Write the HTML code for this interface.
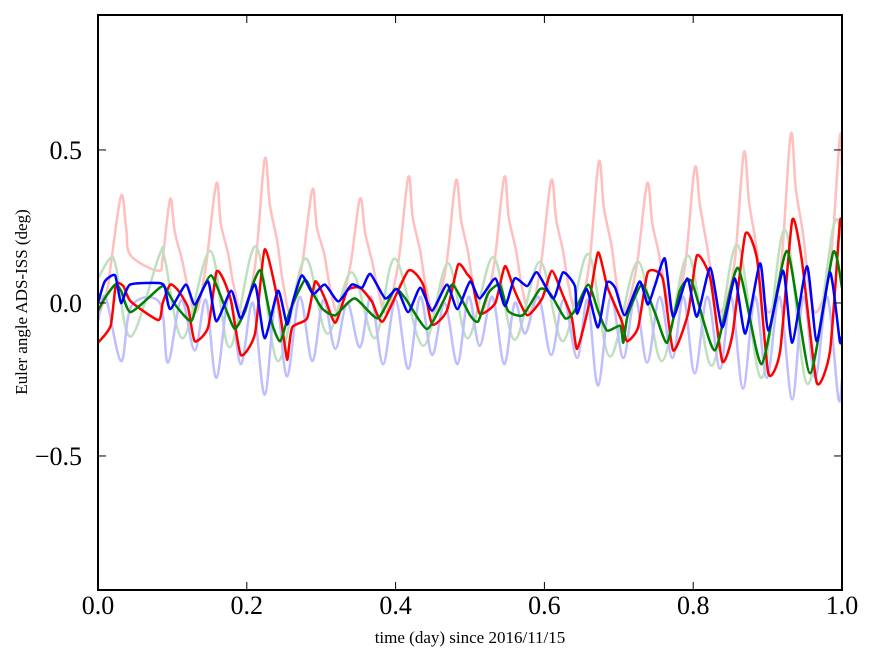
<!DOCTYPE html>
<html><head><meta charset="utf-8"><style>
html,body{margin:0;padding:0;background:#fff;}
svg{display:block;font-family:"Liberation Serif",serif;}
</style></head><body>
<svg id="chart" width="875" height="662" viewBox="0 0 875 662" xmlns="http://www.w3.org/2000/svg">
<rect x="0" y="0" width="875" height="662" fill="#fff"/>
<g id="series"></g>
<g id="axes"></g>
<text x="470" y="643" font-size="17" text-anchor="middle">time (day) since 2016/11/15</text>
<text transform="translate(27,302) rotate(-90)" font-size="17" text-anchor="middle">Euler angle ADS-ISS (deg)</text>
</svg>
<script>
const xTicks=[0,0.2,0.4,0.6,0.8,1.0];
const xTickLabels=["0.0","0.2","0.4","0.6","0.8","1.0"];
const yTicks=[0.5,0,-0.5];
const yTickLabels=["0.5","0.0","\u22120.5"];

const pinkT=[0,.013,.017,.031,.038,.044,.081,.087,.097,.103,.113,.121,.132,.145,.159,.165,.175,.183,.194,.211,.224,.231,.241,.249,.259,.274,.288,.294,.304,.312,.323,.339,.352,.359,.368,.376,.387,.403,.417,.423,.433,.441,.452,.468,.481,.488,.497,.505,.516,.532,.546,.552,.562,.570,.581,.595,.609,.616,.625,.633,.644,.660,.673,.680,.690,.698,.708,.724,.738,.745,.754,.762,.773,.789,.802,.809,.819,.827,.837,.855,.868,.875,.884,.892,.903,.918,.931,.938,.948,.956,.966,.984,.997,1.0];
const pinkV=[-.05,.05,.12,.35,.24,.155,.105,.15,.34,.235,.14,.05,-.03,.12,.39,.26,.16,.05,-.03,.12,.47,.32,.2,.06,-.03,.12,.37,.25,.16,.05,-.03,.12,.34,.23,.14,.05,-.03,.12,.41,.28,.17,.05,-.03,.12,.40,.27,.17,.05,-.03,.12,.41,.28,.17,.05,-.03,.12,.40,.27,.17,.05,-.03,.12,.46,.31,.19,.05,-.03,.12,.39,.26,.16,.05,-.03,.12,.44,.32,.18,.05,-.03,.12,.49,.33,.2,.05,-.03,.12,.55,.37,.22,.05,-.03,.12,.54,.45];

const fgreenT=[0,.016,.024,.044,.083,.09,.114,.151,.177,.212,.242,.278,.308,.341,.372,.399,.437,.470,.497,.531,.560,.594,.625,.659,.688,.726,.758,.793,.825,.859,.892,.923,.954,.988,1.0];
const fgreenV=[.08,.145,.12,-.11,.16,.14,-.115,.17,-.145,.185,-.19,.145,-.1,.10,-.115,.145,-.14,.13,-.115,.15,-.12,.135,-.125,.16,-.175,.135,-.19,.155,-.205,.19,-.245,.24,-.265,.245,.21];

const fblueT=[0,.01,.031,.045,.083,.094,.112,.130,.145,.159,.176,.192,.208,.224,.239,.254,.271,.288,.303,.319,.335,.352,.367,.383,.400,.417,.433,.449,.466,.483,.498,.513,.530,.546,.560,.574,.592,.609,.626,.644,.658,.672,.689,.706,.722,.738,.755,.772,.787,.802,.819,.836,.851,.867,.883,.899,.916,.933,.948,.964,.980,.995,1.0];
const fblueV=[-.06,.02,-.19,-.01,0,-.195,.01,-.155,.01,-.245,.02,-.2,0,-.30,.01,-.24,.02,-.19,.01,-.15,0,-.145,.02,-.2,.01,-.215,.02,-.17,0,-.2,.02,-.14,.02,-.2,0,-.1,.02,-.17,.01,-.18,.01,-.27,.02,-.18,.02,-.195,.02,-.18,.02,-.23,.02,-.215,.02,-.28,.02,-.245,.02,-.315,.02,-.245,.02,-.31,-.25];

const redT=[0,.017,.024,.034,.044,.081,.087,.097,.108,.121,.130,.148,.159,.168,.179,.192,.211,.224,.242,.253,.255,.261,.281,.292,.305,.319,.335,.352,.368,.383,.417,.437,.449,.469,.484,.496,.503,.513,.534,.547,.560,.577,.597,.610,.624,.637,.644,.659,.672,.685,.704,.711,.726,.739,.759,.773,.793,.805,.823,.839,.853,.870,.886,.901,.917,.933,.946,.966,.984,.997,1.0];
const redV=[-.13,-.075,.06,.055,.005,-.056,0,.06,.04,-.015,-.125,-.08,.10,.08,.005,-.17,-.10,.175,.005,-.17,-.18,-.08,-.05,.07,.015,-.065,.04,.05,.005,-.06,.105,.06,-.07,-.025,.125,.095,.07,-.035,0,.12,.04,-.04,.015,.105,.03,-.05,-.15,-.015,.165,.05,-.06,-.125,-.08,.10,.08,-.155,-.035,.155,.08,-.19,-.10,.225,.14,-.23,-.155,.27,.14,-.26,-.155,.26,.25];

const greenT=[0,.009,.023,.031,.044,.083,.090,.105,.125,.134,.152,.171,.184,.198,.208,.219,.233,.245,.258,.278,.289,.302,.319,.345,.376,.399,.413,.442,.464,.477,.5,.511,.524,.540,.551,.571,.594,.608,.628,.641,.659,.672,.684,.702,.706,.712,.731,.749,.765,.782,.798,.829,.860,.892,.926,.957,.988,1.0];
const greenV=[-.025,.015,.06,.04,-.03,.05,.05,-.01,-.06,.005,.09,-.015,-.085,-.025,.06,.105,-.06,-.125,-.025,.075,.03,-.02,-.04,.015,-.05,.045,.015,-.085,.005,.06,-.04,-.06,.03,.06,-.025,-.04,.045,.03,-.05,-.025,.06,-.025,-.09,-.075,-.13,-.04,.06,-.035,-.13,.04,.07,-.155,.115,-.2,.17,-.23,.165,.05];

const blueT=[0,.009,.023,.031,.043,.083,.090,.097,.118,.130,.148,.159,.179,.192,.211,.224,.242,.254,.262,.274,.289,.305,.323,.341,.355,.366,.386,.402,.417,.433,.449,.469,.483,.5,.513,.534,.547,.560,.577,.590,.612,.625,.641,.644,.657,.672,.684,.695,.708,.728,.739,.749,.762,.773,.792,.805,.823,.839,.856,.870,.890,.901,.921,.933,.953,.966,.984,.997,1.0];
const blueV=[0,.07,.09,0,.06,.065,.05,-.02,.06,-.005,.07,-.06,.04,-.05,.06,-.115,.04,-.07,.005,.09,.03,.06,.005,.06,.05,.095,.015,.045,-.03,.05,-.025,.06,-.02,.07,.015,.08,-.01,.08,.055,.1,.015,.1,.055,-.035,.045,-.08,.065,.05,-.04,.07,-.005,.06,.145,-.045,.08,-.045,.115,-.08,.08,-.1,.13,-.09,.105,-.13,.12,-.125,.1,-.125,-.11];

const L=98,R=842,T=15,B=590;
const xMin=0,xMax=1,yMin=-0.938,yMax=0.941;
function xs(v){return L+(v-xMin)/(xMax-xMin)*(R-L);}
function ys(v){return B-(v-yMin)/(yMax-yMin)*(B-T);}
const NS="http://www.w3.org/2000/svg";
const sg=document.getElementById('series');
const ag=document.getElementById('axes');

function smoothPath(t,v,k){const p=t.map((x,i)=>[xs(x),ys(v[i])]);let d='M'+p[0][0].toFixed(1)+','+p[0][1].toFixed(1);
for(let i=0;i<p.length-1;i++){const p0=p[Math.max(0,i-1)],p1=p[i],p2=p[i+1],p3=p[Math.min(p.length-1,i+2)];
const c1=[p1[0]+(p2[0]-p0[0])/k,p1[1]+(p2[1]-p0[1])/k],c2=[p2[0]-(p3[0]-p1[0])/k,p2[1]-(p3[1]-p1[1])/k];
d+='C'+c1[0].toFixed(1)+','+c1[1].toFixed(1)+' '+c2[0].toFixed(1)+','+c2[1].toFixed(1)+' '+p2[0].toFixed(1)+','+p2[1].toFixed(1);}return d;}

function addSeries(name,t,v,color,w,k){
const p=document.createElementNS(NS,'path');
p.setAttribute('d',smoothPath(t,v,k));
p.setAttribute('fill','none');p.setAttribute('stroke',color);p.setAttribute('stroke-width',w);p.setAttribute('stroke-linejoin','round');


sg.appendChild(p);}
addSeries('series-red-faded',pinkT,pinkV,'#ffbfbf',2.5,6);
addSeries('series-green-faded',fgreenT,fgreenV,'#bfdfbf',2.5,6);
addSeries('series-blue-faded',fblueT,fblueV,'#bfbfff',2.5,6);
addSeries('series-red',redT,redV,'#ff0000',2.5,10);
addSeries('series-green',greenT,greenV,'#008000',2.5,10);
addSeries('series-blue',blueT,blueV,'#0000ff',2.5,10);

function mk(tag,attrs){const e=document.createElementNS(NS,tag);for(const k in attrs)e.setAttribute(k,attrs[k]);ag.appendChild(e);return e;}
xTicks.forEach((v,i)=>{const x=xs(v);
const t1=mk('line',{x1:x,y1:B,x2:x,y2:B-8,stroke:'#000','stroke-width':1});


const t2=mk('line',{x1:x,y1:T,x2:x,y2:T+8,stroke:'#000','stroke-width':1});


const tx=mk('text',{x:x,y:614,'font-size':26,'text-anchor':'middle'});tx.textContent=xTickLabels[i];


});
yTicks.forEach((v,i)=>{const y=ys(v);
const t1=mk('line',{x1:L,y1:y,x2:L+8,y2:y,stroke:'#000','stroke-width':1});


const t2=mk('line',{x1:R,y1:y,x2:R-8,y2:y,stroke:'#000','stroke-width':1});


const tx=mk('text',{x:82,y:y+9,'font-size':26,'text-anchor':'end'});tx.textContent=yTickLabels[i];


});
const frame=mk('rect',{x:L,y:T,width:R-L,height:B-T,fill:'none',stroke:'#000','stroke-width':2});


</script>
</body></html>
